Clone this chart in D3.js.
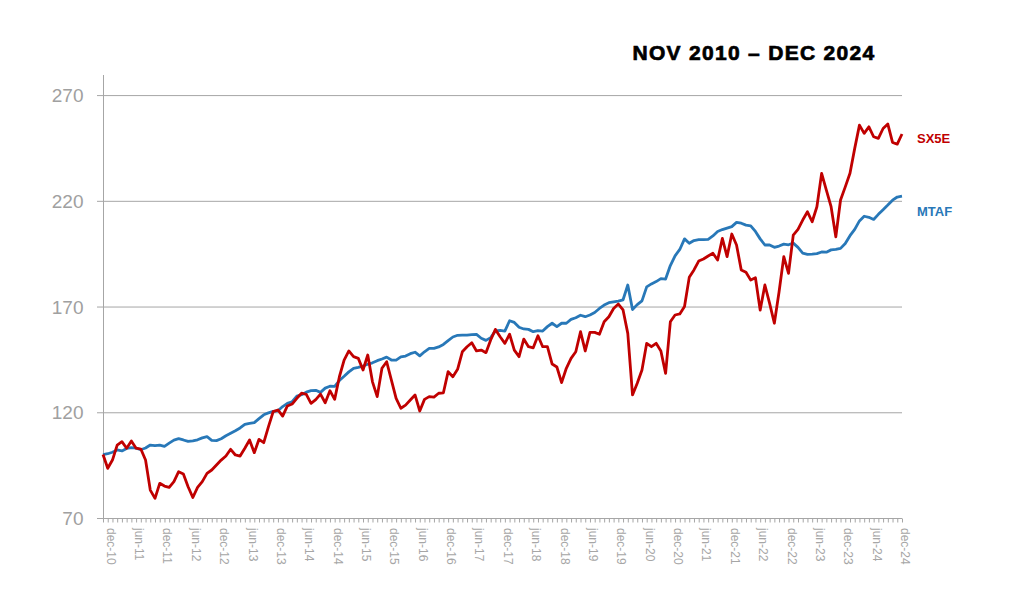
<!DOCTYPE html>
<html><head><meta charset="utf-8">
<script src="https://cdn.jsdelivr.net/npm/d3@7"></script>
<style>html,body{margin:0;padding:0;background:#fff;} svg{display:block;}</style>
</head><body>
<svg id="chart" width="1024" height="610"></svg>
<script>
const title = "NOV 2010 \u2013 DEC 2024";
const seriesNames = ["SX5E", "MTAF"];
const seriesColors = ["#c00000", "#2878b8"];
// monthly, Nov 2010 .. Dec 2024 (170 months)
const sx5e = [
  100, 93.5, 97.4, 104.5, 106.1, 103, 106.4, 103, 102.6, 97.4,
  83.2, 79.3, 86.4, 85.1, 84.5, 87.2, 91.9, 90.8, 84.8, 79.7,
  84.5, 87.2, 91.1, 92.7, 95.1, 97.4, 99.3, 102.5, 99.8, 99.3,
  103, 106.9, 100.9, 107.2, 105.6, 113.2, 120.3, 121.1, 118.2, 123,
  123.9, 126.6, 129, 128.5, 124.2, 126, 128.6, 124.5, 130.2, 126.1,
  136.8, 144.7, 149, 146.3, 145.5, 140, 147.1, 134.4, 127.4, 140.8,
  143.9, 135.2, 126.6, 121.9, 123.4, 125.8, 128.2, 120.6, 126.1, 127.4,
  127.2, 129, 129.2, 139.2, 136.8, 140.3, 148.6, 151, 152.9, 149,
  149.4, 148.2, 154.2, 159.2, 155.7, 152.6, 156.9, 149.4, 146.3, 154.6,
  151, 150.5, 156.2, 151, 151, 142.8, 141.4, 134, 140.8, 145.5,
  148.6, 158.1, 149, 157.8, 157.8, 156.9, 162.8, 165.2, 169.1, 171.2,
  168.4, 157.3, 128.2, 133.7, 140, 152.6, 151, 152.6, 149, 138.4,
  162.8, 166, 166.5, 170, 183.8, 187.3, 191.5, 192.5, 193.9, 195.2,
  192, 202.2, 193.6, 204.3, 199.1, 187.3, 186.2, 182.5, 183.6, 168.3,
  180.2, 171.5, 162.1, 177, 193.6, 185.7, 203.8, 206.5, 210.9, 214.8,
  210.1, 217.2, 233, 225.1, 217.2, 203, 220.4, 226.6, 233, 244.8,
  255.8, 251.9, 255, 250.3, 249.5, 254.2, 256.3, 247.6, 246.8, 251.6
];
const mtaf = [
  100, 100.4, 101.1, 102.2, 101.7, 102.9, 103.3, 103, 102.3, 103.1,
  104.5, 104.2, 104.5, 103.9, 105.4, 106.8, 107.5, 106.9, 106.2, 106.5,
  107, 107.9, 108.5, 106.7, 106.6, 107.5, 108.9, 110.1, 111.3, 112.6,
  114.3, 114.8, 115.1, 117, 118.8, 119.7, 120.4, 120.7, 122.7, 124.2,
  125, 127.6, 128.3, 129.5, 130.2, 130.4, 129.4, 131.4, 132.3, 132.2,
  135, 137, 139.1, 140.8, 141.2, 141.9, 142.7, 143.4, 144.4, 145.2,
  146.1, 144.7, 144.7, 146.2, 146.6, 147.7, 148.4, 146.7, 148.6, 150.2,
  150.2, 150.9, 152.1, 153.9, 155.6, 156.4, 156.5, 156.5, 156.7, 156.8,
  155, 154, 155.3, 158.5, 158.7, 158.4, 163.3, 162.5, 160.2, 159.4,
  159.2, 158.1, 158.6, 158.4, 160.5, 162.1, 160.5, 162.1, 162.1, 163.9,
  164.7, 165.9, 165.2, 166, 167.2, 169.1, 170.7, 171.8, 172.2, 172.6,
  173.2, 180.2, 168.6, 170.9, 172.7, 179.3, 180.7, 181.8, 183.2, 183,
  189.4, 194, 197, 202, 199.9, 201.2, 201.6, 201.6, 201.8, 203.4,
  205.5, 206.4, 207.1, 207.8, 209.8, 209.4, 208.5, 208.2, 205.5, 202,
  199.1, 199.1, 198, 198.6, 199.5, 199.2, 200, 198, 195.3, 194.7,
  194.8, 195, 195.8, 195.7, 196.8, 197, 197.5, 199.8, 203.5, 206.5,
  210.5, 212.7, 212.2, 211.2, 213.6, 215.8, 218, 220.3, 221.8, 222.2
];
const yTicks = [70, 120, 170, 220, 270];
const xTickLabels = ["dec-10","jun-11","dec-11","jun-12","dec-12","jun-13","dec-13","jun-14",
  "dec-14","jun-15","dec-15","jun-16","dec-16","jun-17","dec-17","jun-18","dec-18","jun-19",
  "dec-19","jun-20","dec-20","jun-21","dec-21","jun-22","dec-22","jun-23","dec-23","jun-24","dec-24"];

(function () {
const svg = d3.select("#chart");
svg.append("rect").attr("width", 1024).attr("height", 610).attr("fill", "#fff");

const pLeft = 103, pRight = 902, pTop = 75, pBottom = 518;
const n = sx5e.length;
const x = d3.scaleLinear().domain([0, n - 1]).range([pLeft, pRight]);
const y = d3.scaleLinear().domain([70, 279.5]).range([pBottom, pTop]);
const gridColor = "#a6a6a6";
const font = "Liberation Sans, Arial, sans-serif";

// gridlines
svg.append("g").selectAll("line").data(yTicks).join("line")
  .attr("x1", pLeft - 6).attr("x2", pRight)
  .attr("y1", d => y(d) + 0.5).attr("y2", d => y(d) + 0.5)
  .attr("stroke", gridColor).attr("stroke-width", 1);

// y axis
const yAxis = svg.append("g").attr("transform", `translate(${pLeft + 0.5},0)`)
  .call(d3.axisLeft(y).tickValues(yTicks).tickSize(0).tickPadding(20).tickFormat(d3.format("d")));
yAxis.select(".domain").attr("stroke", gridColor).attr("d", `M0,${pTop}V${pBottom}`);
yAxis.selectAll("text").attr("fill", "#a0a0a0").attr("font-size", 19)
  .attr("font-family", font).attr("dy", "0.35em");

// x axis
const xAxis = svg.append("g").attr("transform", `translate(0,${pBottom + 0.5})`)
  .call(d3.axisBottom(x).tickValues(d3.range(n)).tickSize(4)
    .tickFormat(i => (i % 6 === 1 ? xTickLabels[(i - 1) / 6] : "")));
xAxis.select(".domain").remove();
xAxis.selectAll(".tick line").attr("stroke", gridColor);
xAxis.selectAll("text")
  .attr("transform", "rotate(90)")
  .attr("x", 9.5).attr("y", -2.5).attr("dy", null)
  .attr("dominant-baseline", "central")
  .attr("text-anchor", "start")
  .attr("fill", "#a6a6a6").attr("font-size", 12)
  .attr("font-family", font);

// lines
const line = d3.line().x((d, i) => x(i)).y(d => y(d)).curve(d3.curveLinear);
svg.append("path").datum(mtaf).attr("d", line).attr("fill", "none")
  .attr("stroke", seriesColors[1]).attr("stroke-width", 2.8).attr("stroke-linejoin", "round");
svg.append("path").datum(sx5e).attr("d", line).attr("fill", "none")
  .attr("stroke", seriesColors[0]).attr("stroke-width", 2.8).attr("stroke-linejoin", "round");

// series labels
svg.append("text").attr("x", 917).attr("y", 142.5).text(seriesNames[0])
  .attr("fill", seriesColors[0]).attr("font-weight", "bold").attr("font-size", 13)
  .attr("font-family", font);
svg.append("text").attr("x", 917).attr("y", 216).text(seriesNames[1])
  .attr("fill", seriesColors[1]).attr("font-weight", "bold").attr("font-size", 13)
  .attr("font-family", font);

// title
svg.append("text").attr("x", 754).attr("y", 59.5).attr("text-anchor", "middle")
  .text(title).attr("font-weight", "bold").attr("font-size", 21)
  .attr("letter-spacing", 1.3)
  .attr("stroke", "#000").attr("stroke-width", 0.7)
  .attr("fill", "#000").attr("font-family", font);
})();
</script>
</body></html>
